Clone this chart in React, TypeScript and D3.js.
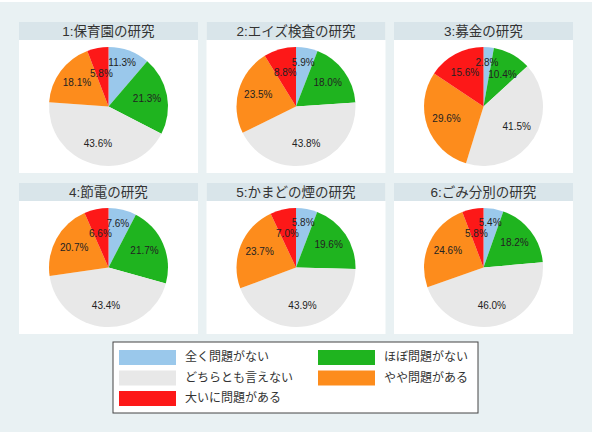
import { useRef, useEffect } from "react";
import * as d3 from "d3";

// categories (clockwise from 12 o'clock)
const categories = [
  "全く問題がない",
  "ほぼ問題がない",
  "どちらとも言えない",
  "やや問題がある",
  "大いに問題がある",
];
const colors = ["#9ac8eb", "#1fb41f", "#e8e8e8", "#fd8c1c", "#fd1818"];

const titles = [
  "1:保育園の研究",
  "2:エイズ検査の研究",
  "3:募金の研究",
  "4:節電の研究",
  "5:かまどの煙の研究",
  "6:ごみ分別の研究",
];

// percentages per study
const study1 = [11.3, 21.3, 43.6, 18.1, 5.8];
const study2 = [5.9, 18.0, 43.8, 23.5, 8.8];
const study3 = [2.8, 10.4, 41.5, 29.6, 15.6];
const study4 = [7.6, 21.7, 43.4, 20.7, 6.6];
const study5 = [5.8, 19.6, 43.9, 23.7, 7.0];
const study6 = [5.4, 18.2, 46.0, 24.6, 5.8];
const studies = [study1, study2, study3, study4, study5, study6];

const FONT = "'Liberation Sans', Arial, 'Noto Sans CJK JP', sans-serif";

const App = () => {
  const svgRef = useRef<SVGSVGElement>(null);

  useEffect(() => {
    const svg = d3.select(svgRef.current);
    svg.selectAll("*").remove();

    const width = 595;
    const height = 438;
    svg.attr("width", width).attr("height", height);

    svg.append("rect").attr("width", width).attr("height", height).attr("fill", "#ffffff");
    svg
      .append("rect")
      .attr("x", 0)
      .attr("y", 2)
      .attr("width", 592)
      .attr("height", 430)
      .attr("fill", "#e9f1f3");

    // panel grid
    const panelX = d3.scalePoint<number>().domain([0, 1, 2]).range([19, 394]);
    const panelY = d3.scalePoint<number>().domain([0, 1]).range([22, 183]);
    const panelW = 179;
    const titleH = 18;
    const panelH = 151;
    const radius = 59.5;
    const labelH = 10.5; // label box height used to push overlapping labels apart

    const pie = d3
      .pie<number>()
      .sort(null)
      .value((d) => d);
    const arc = d3.arc<d3.PieArcDatum<number>>().innerRadius(0).outerRadius(radius);
    const labelArc = d3
      .arc<d3.PieArcDatum<number>>()
      .innerRadius(radius * 0.66)
      .outerRadius(radius * 0.66);

    studies.forEach((values, i) => {
      const col = i % 3;
      const row = Math.floor(i / 3);
      const x0 = panelX(col)!;
      const y0 = panelY(row)!;

      const g = svg.append("g").attr("transform", `translate(${x0}, ${y0})`);

      g.append("rect")
        .attr("width", panelW)
        .attr("height", panelH)
        .attr("fill", "#ffffff");
      g.append("rect")
        .attr("width", panelW)
        .attr("height", titleH)
        .attr("fill", "#d9e5ea");
      g.append("text")
        .attr("x", panelW / 2)
        .attr("y", titleH / 2 + 1)
        .attr("text-anchor", "middle")
        .attr("dominant-baseline", "middle")
        .attr("font-family", FONT)
        .attr("font-size", 13.5)
        .attr("fill", "#333333")
        .text(titles[i]);

      const cy = titleH + (panelH - titleH) / 2;
      const pg = g.append("g").attr("transform", `translate(${panelW / 2}, ${cy})`);
      const arcs = pie(values);

      pg.selectAll("path")
        .data(arcs)
        .join("path")
        .attr("d", arc)
        .attr("fill", (_d, j) => colors[j]);

      const labels = pg
        .selectAll("text")
        .data(arcs)
        .join("text")
        .attr("text-anchor", "middle")
        .attr("dominant-baseline", "middle")
        .attr("font-family", FONT)
        .attr("font-size", 10)
        .attr("fill", "#222222")
        .text((d) => `${d.data.toFixed(1)}%`);

      // start at centroids, then nudge overlapping labels apart vertically
      const pos = arcs.map((d) => labelArc.centroid(d));
      const widths: number[] = [];
      labels.each(function () {
        widths.push((this as SVGTextElement).getComputedTextLength());
      });
      for (let iter = 0; iter < 40; iter++) {
        for (let a = 0; a < pos.length; a++) {
          for (let b = a + 1; b < pos.length; b++) {
            const dx = Math.abs(pos[a][0] - pos[b][0]);
            const dy = Math.abs(pos[a][1] - pos[b][1]);
            if (dx < (widths[a] + widths[b]) / 2 - 2 && dy < labelH) {
              const shift = pos[a][1] - (pos[b][1] - labelH);
              if (shift > 0) {
                pos[a][1] -= shift / 2;
                pos[b][1] += shift / 2;
              }
            }
          }
        }
      }
      labels.attr("transform", (_d, j) => `translate(${pos[j][0]}, ${pos[j][1]})`);
    });

    // legend
    const legend = svg.append("g").attr("transform", "translate(113, 342)");
    legend
      .append("rect")
      .attr("width", 365)
      .attr("height", 71)
      .attr("fill", "#ffffff")
      .attr("stroke", "#444444")
      .attr("stroke-width", 1);

    const legCol = d3.scalePoint<number>().domain([0, 1]).range([6, 205]);
    const legRow = d3.scalePoint<number>().domain([0, 1, 2]).range([8, 49]);

    categories.forEach((c, j) => {
      const lx = legCol(j % 2)!;
      const ly = legRow(Math.floor(j / 2))!;
      legend
        .append("rect")
        .attr("x", lx)
        .attr("y", ly)
        .attr("width", 57)
        .attr("height", 15)
        .attr("fill", colors[j]);
      legend
        .append("text")
        .attr("x", lx + 66)
        .attr("y", ly + 8)
        .attr("dominant-baseline", "middle")
        .attr("font-family", FONT)
        .attr("font-size", 12)
        .attr("fill", "#333333")
        .text(c);
    });
  }, []);

  return (
    <svg ref={svgRef} style={{ position: "absolute", left: 0, top: 0 }}></svg>
  );
};

export default App;
